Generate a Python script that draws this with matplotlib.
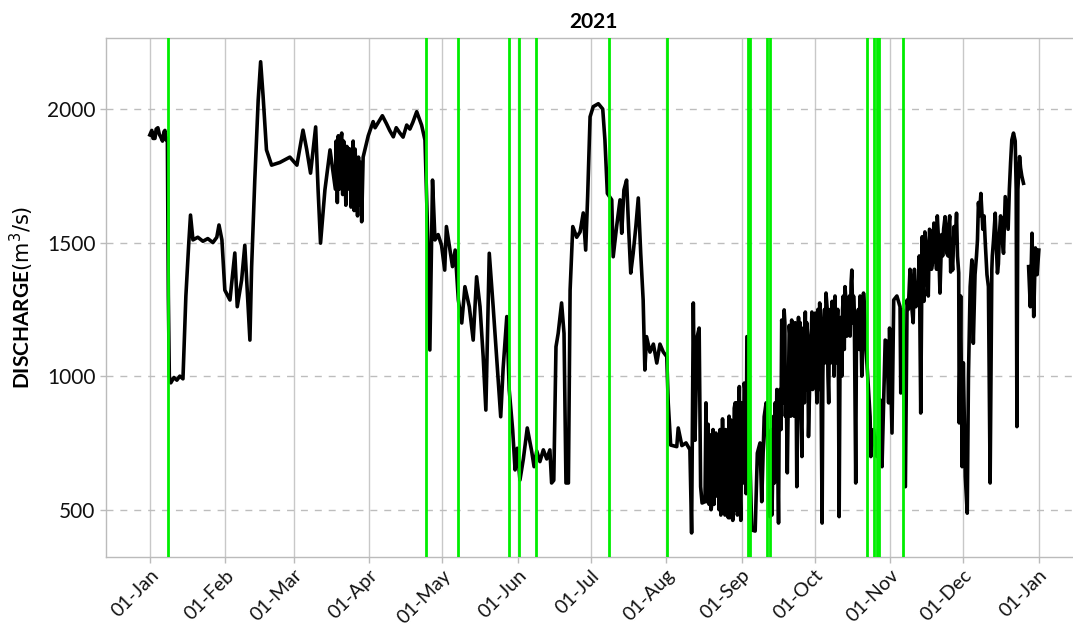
import numpy as np
import pandas as pd
import matplotlib
matplotlib.use("Agg")
import matplotlib.pyplot as plt
import matplotlib.dates as mdates

# Days elapsed since 2021-01-01 00:00 and discharge (m3/s); NaN marks a data gap
day = [0, 0.8, 2.1, 3.3, 4.5, 5.8, 6.6, 7.2, 7.6, 8.0, 8.6, 9.9, 11.1, 12.3, 13.6, 14.8, 16.0, 16.7,
       17.7, 19.7, 21.8, 23.8, 25.9, 27.5, 28.4, 29.6, 30.8, 32.9, 34.9, 35.9, 37.7, 39.0, 41.1, 41.8,
       43.1, 44.5, 45.5, 46.5, 47.9, 50.0, 53.4, 57.5, 60.4, 62.9, 64.4, 66.0, 68.1, 69.1, 70.1, 71.9,
       74.0, 76.7, 78.8, 80.1, 81.5, 82.6, 83.5, 84.9, 87.0, 87.6, 89.7, 91.7, 94.5, 97.2, 100.0, 102.7,
       106.8, 109.6, 111.6, 113.0, 114.2, 115.0, 116.1, 117.1, 118.4, 119.8, 121.1, 121.8, 123.3, 124.3,
       125.4, 126.7, 128.1, 129.4, 131.2, 132.8, 134.2, 135.6, 136.9, 138.0, 139.4, 141.0, 142.4, 144.1,
       145.1, 146.6, 147.6, 149.0, 150.0, 150.9, 152.0, 153.4, 155.0, 156.8, 157.8, 158.9, 160.2, 161.6,
       163.0, 164.3, 165.0, 165.9, 166.8, 167.7, 169.1, 170.1, 170.9, 171.9, 172.6, 173.7, 175.3, 176.7,
       178.0, 179.0, 179.8, 180.8, 182.1, 184.2, 186.0, 186.9, 187.9, 189.7, 190.3, 191.7, 193.1, 193.8,
       194.7, 195.8, 196.6, 197.5, 198.5, 199.6, 200.6, 201.6, 202.6, 203.3, 204.0, 205.4, 206.8, 208.2,
       209.5, 210.9, 212.3, 212.9, 213.9, 216.4, 217.0, 218.5, 220.2, 221.8, 222.5, 223.2, 223.9, 224.8,
       225.6, 226.2, 226.8, 228.0, 228.4, 228.7, 230.9, 232.5, 233.1, 234.9, 235.6, 236.2, 236.9, 237.6,
       238.6, 239.4, 240.4, 241.3, 242.1, 242.7, 243.5, 244.1, 244.9, 245.2, 247.2, 248.6, 249.5, 250.6,
       251.3, 252.3, 253.1, 254.7, 255.8, 256.8, 257.5, 258.2, 258.8, 259.5, 260.5, 261.3, 261.8, 262.6,
       263.6, 264.3, 265.0, 265.7, 266.4, 267.1, 267.8, 268.4, 269.8, 270.5, 271.2, 271.9, 272.6, 273.3,
       274.0, 275.1, 276.1, 276.7, 277.7, 278.8, 279.5, 280.7, 282.1, 283.1, 283.9, 284.8, 285.5, 286.9,
       288.3, 289.3, 289.9, 290.6, 291.7, 292.4, 293.1, 293.8, 294.5, 295.8, 296.1, 297.2, 298.6, 300.0,
       300.7, 302.0, 302.7, 303.4, 303.8, 304.8, 305.5, 306.8, 308.1, 308.4, 309.2, 310.3, 311.0, 312.8,
       313.5, 314.6, 315.6, 316.6, 317.2, 317.9, 318.7, 319.7, 320.7, 321.5, 322.0, 323.1, 323.8, 324.5,
       325.2, 326.6, 327.3, 328.2, 328.9, 329.7, 330.3, 331.3, 332.2, 332.4, 333.0, 333.6, 334.1, 334.9,
       335.7, 336.2, 336.9, 337.6, 338.2, 338.9, 339.9, 340.7, 341.3, 342.1, 343.1, 343.8, 344.4, 345.1,
       345.8, 346.5, 347.2, 348.1, 348.9, 349.9, 350.6, 351.3, 352.0, 353.0, 354.0, 354.7, 355.4, 355.8,
       356.1, 356.5, 357.2, 358.1, 358.8, 359.5, 360.9, 361.6, 362.3, 363.0, 363.7, 364.4, 365.1]

discharge = [1903, 1920, 1890, 1930, 1895, 1915, 1885, 1890, 1300, 1000, 975, 995, 985, 1000, 990, 1300, 1500, 1603,
             1510, 1520, 1505, 1515, 1500, 1520, 1566, 1510, 1322, 1285, 1461, 1260, 1360, 1490, 1135, 1409,
             1734, 2034, 2177, 2050, 1847, 1790, 1800, 1820, 1790, 1921, 1850, 1760, 1933, 1697, 1498, 1697,
             1847, 1860, 1910, 1790, 1850, 1633, 1880, 1700, 1578, 1820, 1900, 1953, 1960, 1945, 1896, 1910,
             1925, 1990, 1940, 1884, 1500, 1098, 1734, 1510, 1530, 1490, 1397, 1560, 1470, 1410,
             1472, 1285, 1199, 1335, 1260, 1135, 1372, 1260, 1073, 873, 1460, 1260, 1073, 848,
             1030, 1223, 948, 800, 649, 730, 611, 690, 806, 720, 661, 720, 680, 724,
             690, 724, 600, 610, 1110, 1160, 1274, 1160, 600, 600, 1322, 1560, 1520, 1540,
             1611, 1472, 1672, 1971, 2009, 2020, 2000, 1884, 1684, 1660, 1447, 1560, 1660, 1535,
             1697, 1734, 1560, 1386, 1460, 1560, 1667, 1460, 1285, 1023, 1148, 1090, 1120, 1049,
             1120, 1090, 1073, 900, 742, 736, 806, 740, 750, 725, 413, 1274, 760, 1148,
             1180, 586, 525, 530, 900, 530, 530, 787, 550, 560, 600, 480, 787, 470,
             836, 460, 900, 480, 961, 460, 760, 974, 560, 1148, 424, 420, 712, 750,
             530, 848, 900, 474, 630, 900, 950, 450, 950, 1210, 1248, 1000, 638, 1190,
             1210, 950, 1200, 586, 1220, 1200, 699, 1180, 1200, 774, 1050, 1240, 1150, 1236,
             900, 1274, 450, 1200, 1311, 900, 1250, 1200, 1150, 474, 1220, 1300, 1335, 1250,
             1397, 1250, 600, 1200, 1300, 1000, 1311, 1200, 1050, 848, 699, 800, 699, 911,
             661, 1135, 1130, 900, 1180, 787, 1285, 1300, 1260, 937, 1250, 586, 1285, 1335,
             1200, 1260, 1330, 862, 1522, 1280, 1500, 1300, 1540, 1430, 1573, 1400, 1530, 1311,
             1530, 1597, 1460, 1570, 1390, 1397, 1560, 1610, 1386, 825, 1300, 661, 1050, 624,
             487, 1000, 1335, 1435, 1123, 1380, 1510, 1600, 1684, 1550, 1500, 1380, 1335, 600,
             1400, 1510, 1610, 1386, 1530, 1550, 1460, 1672, 1600, 1700, 1884, 1910, 1880, 1700,
             811, 1700, 1822, 1750, 1722, np.nan, 1410, 1260, 1535, 1223, 1480, 1380, 1472]

# Additional readings in the noisy stretches (day since 2021-01-01, discharge)
detail_day = [1.3, 2.6, 3.9, 5.2, 6.2,
              76.2, 76.5, 77.0, 77.4, 77.8, 78.2, 79.2, 79.6, 80.5, 80.9, 81.9, 82.2, 83.0, 83.9, 84.3,
              85.3, 85.7, 86.2, 86.6,
              92.5, 95.5, 98.5, 101.2, 104.0, 105.5, 108.0,
              229.3, 229.7, 230.2, 230.5, 231.3, 231.7, 232.0, 232.8, 233.4, 233.8, 234.2, 234.5, 235.2,
              235.9, 236.5, 237.2, 237.9, 238.2, 239.0, 239.7, 240.0, 240.7, 241.0, 241.6, 241.9, 242.4,
              243.2, 243.8, 244.4,
              255.2, 255.5, 256.2, 256.5, 257.2, 258.5, 259.2, 259.9, 260.2, 260.8, 261.0, 262.2, 262.9,
              263.2, 263.9, 264.6, 265.3, 266.0, 266.8, 267.4, 268.1, 268.8, 269.2, 269.5, 270.2, 270.8,
              271.5, 272.2, 272.9, 273.6, 274.4, 274.7, 275.5, 276.4, 277.1, 277.4, 278.2, 278.5, 279.1,
              279.8, 280.2, 281.0, 281.4, 281.8, 282.5, 282.8, 283.5, 284.2, 284.5, 285.2, 285.9, 286.3,
              287.3, 287.6, 288.0, 288.7, 289.0, 290.2, 291.0, 291.4, 292.0, 292.8, 293.5,
              311.5, 312.2, 313.0, 314.0, 315.0, 316.0, 317.5, 318.3, 319.2, 320.2, 321.0, 322.5, 323.4,
              324.2, 325.6, 326.0, 327.8, 328.5, 329.3, 330.8, 331.7,
              339.5, 340.3, 342.6, 343.4, 346.0, 347.6, 348.5, 349.4, 350.2, 352.5, 353.5, 357.6]
detail_q = [1890, 1925, 1905, 1880, 1920,
            1700, 1880, 1650, 1900, 1700, 1870, 1680, 1880, 1640, 1860, 1700, 1850, 1720, 1620, 1850,
            1600, 1820, 1640, 1800,
            1930, 1975, 1920, 1930, 1895, 1940, 1950,
            820, 520, 780, 500, 800, 520, 760, 600, 780, 500, 800, 480, 840,
            520, 800, 480, 850, 470, 820, 520, 880, 500, 900, 520, 850, 560,
            900, 600, 950,
            800, 480, 850, 600, 700, 900, 800, 1150, 900, 1200, 850, 900, 1150,
            850, 1100, 850, 1150, 900, 1100, 850, 1150, 900, 1240, 950, 1150, 900,
            1100, 950, 1200, 1000, 1250, 950, 1150, 1000, 1250, 1050, 1250, 1000, 1200,
            1050, 1280, 1000, 1300, 1050, 1250, 1000, 1150, 1000, 1250, 1100, 1280, 1150,
            1300, 1150, 1350, 1200, 1300, 1150, 1250, 1100, 1200, 1100, 1250,
            1250, 1400, 1250, 1400, 1300, 1450, 1350, 1540, 1380, 1550, 1400, 1480, 1600,
            1400, 1450, 1550, 1450, 1600, 1450, 1500, 1450,
            1450, 1650, 1600, 1450, 1450, 1500, 1420, 1600, 1500, 1550, 1800, 1780]

# Event dates marked with vertical green lines
events = ["2021-01-08", "2021-04-24", "2021-05-07", "2021-05-28", "2021-06-01", "2021-06-08",
          "2021-07-08", "2021-08-01", "2021-09-03", "2021-09-04", "2021-09-11", "2021-09-12",
          "2021-10-22", "2021-10-25", "2021-10-26", "2021-10-27", "2021-11-06"]

yticks = [500, 1000, 1500, 2000]

plt.rcParams['font.family'] = ['Lato', 'DejaVu Sans']

all_day = np.concatenate([np.array(day, float), np.array(detail_day, float)])
all_q = np.concatenate([np.array(discharge, float), np.array(detail_q, float)])
order = np.argsort(all_day, kind="stable")
all_day, all_q = all_day[order], all_q[order]

t0 = pd.Timestamp("2021-01-01")
times = t0 + pd.to_timedelta(all_day, unit="D")
ev_times = pd.to_datetime(events) + pd.Timedelta(hours=12)

fig = plt.figure(figsize=(10.73, 6.28), dpi=100)
ax = fig.add_axes([0.0988, 0.1131, 0.9077, 0.8264])

ax.plot(times, all_q, color="black", lw=2.6, zorder=3, solid_joinstyle="round")
for e in ev_times:
    ax.axvline(e, color="#00ee00", lw=2.0, zorder=4)

ax.set_xlim(pd.Timestamp("2020-12-14"), pd.Timestamp("2022-01-18"))
ax.set_ylim(323, 2266)

ax.xaxis.set_major_locator(mdates.MonthLocator())
ax.xaxis.set_major_formatter(mdates.DateFormatter("%d-%b"))
ax.set_yticks(yticks)

ax.grid(axis="x", color="#c8c8c8", lw=1.0, ls="-", zorder=0)
ax.grid(axis="y", color="#bdbdbd", lw=1.0, ls=(0, (5, 5)), zorder=0)

for s in ["left", "top", "bottom"]:
    ax.spines[s].set_color("#bbbbbb")
    ax.spines[s].set_linewidth(1.0)
ax.spines["right"].set_visible(False)

ax.tick_params(axis="both", colors="#bbbbbb", length=4, width=1, labelcolor="#111111")
ax.tick_params(axis="y", labelsize=15)
ax.tick_params(axis="x", labelsize=14, pad=3)
for lbl in ax.get_xticklabels():
    lbl.set_rotation(45)
    lbl.set_ha("right")
    lbl.set_rotation_mode("anchor")

ax.set_title("2021", fontsize=15, fontweight="bold", pad=7)
ax.set_ylabel(r"DISCHARGE$(\mathrm{m^3/s})$", fontsize=15, fontweight="bold", labelpad=8)

fig.savefig("out.png", dpi=100)
